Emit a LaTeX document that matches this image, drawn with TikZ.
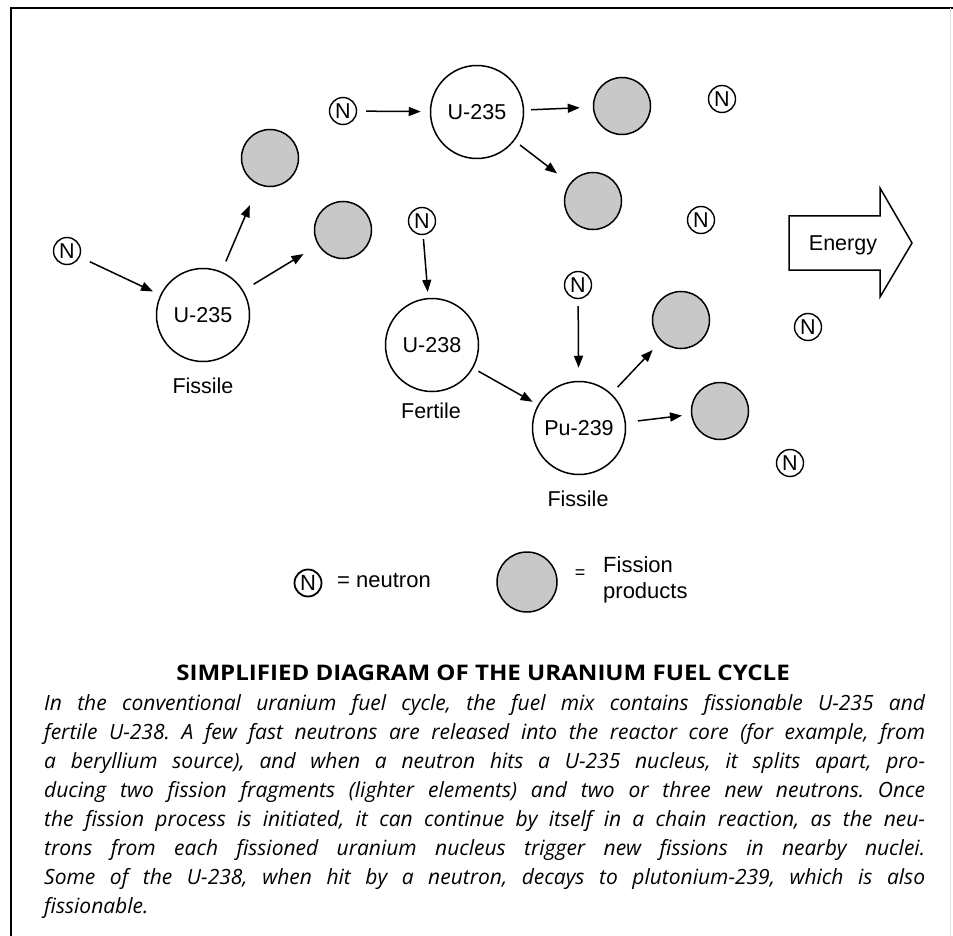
\documentclass[tikz,border=0pt]{standalone}
\usepackage{fontspec}
\setmainfont{Liberation Sans}
\newfontfamily\capfont{Open Sans}
\usetikzlibrary{arrows.meta}
\definecolor{fpgray}{RGB}{200,200,200}
\frenchspacing
\begin{document}
\begin{tikzpicture}[x=1pt,y=-1pt,
  nuc/.style={circle, draw, line width=1.5pt, fill=white, minimum size=93pt, inner sep=0pt, font=\fontsize{21.5}{24}\selectfont},
  fp/.style={circle, draw, line width=1.5pt, fill=fpgray, minimum size=57pt, inner sep=0pt},
  neu/.style={circle, draw, line width=1.4pt, minimum size=27pt, inner sep=0pt, font=\fontsize{21.5}{21}\selectfont},
  arr/.style={line width=1.5pt, -{Triangle[length=12pt,width=9pt]}},
  lbl/.style={font=\fontsize{21.5}{24}\selectfont, inner sep=0pt},
  capt/.style={font=\capfont\itshape\fontsize{21}{29}\selectfont, inner sep=0pt},
  ttl/.style={font=\capfont\bfseries\addfontfeatures{FakeStretch=1.12}\fontsize{21.5}{29}\selectfont, inner sep=0pt}]
\useasboundingbox (0,0) rectangle (953,936);
% frame
\draw[line width=1.5pt] (10,8) -- (953,8);
\draw[line width=1.5pt] (11,8) -- (11,936);
\draw[gray!25, line width=1pt] (950,8) -- (950,936);

% nuclei
\node[nuc] (u1) at (203,315) {U-235};
\node[nuc] (u2) at (477,112) {U-235};
\node[nuc] (u3) at (432,345) {U-238};
\node[nuc] (pu) at (579,428) {Pu-239};
\node[lbl, anchor=base] (f1) at (203,393) {Fissile};
\node[lbl, anchor=base] (f2) at (431,418) {Fertile};
\node[lbl, anchor=base] (f3) at (578,506) {Fissile};

% fission products
\node[fp] (g1) at (270,158) {};
\node[fp] (g2) at (343,230) {};
\node[fp] (g3) at (622,106) {};
\node[fp] (g4) at (593,201) {};
\node[fp] (g5) at (681,320) {};
\node[fp] (g6) at (720,411) {};

% neutrons
\node[neu] (nl) at (67,251) {N};
\node[neu] (nt) at (343,111) {N};
\node[neu] (nm) at (422,221) {N};
\node[neu] (np) at (578,285) {N};
\node[neu] (n1) at (722,99) {N};
\node[neu] (n2) at (701,220) {N};
\node[neu] (n3) at (808,327) {N};
\node[neu] (n4) at (790,463) {N};

% arrows
\draw[arr, shorten <=11pt, shorten >=8pt] (nl) -- (u1);
\draw[arr, shorten <=11pt, shorten >=22pt] (u1) -- (g1);
\draw[arr, shorten <=12pt, shorten >=17pt] (u1) -- (g2);
\draw[arr, shorten <=9pt, shorten >=9pt] (nt) -- (u2);
\draw[arr, shorten <=7pt, shorten >=13pt] (u2) -- (g3);
\draw[arr, shorten <=7pt, shorten >=16pt] (u2) -- (g4);
\draw[arr, shorten <=4pt, shorten >=6pt] (nm) -- (u3);
\draw[arr, shorten <=6pt, shorten >=6pt] (u3) -- (pu);
\draw[arr, shorten <=7pt, shorten >=13pt] (np) -- (pu);
\draw[arr, shorten <=9pt, shorten >=12pt] (pu) -- (g5);
\draw[arr, shorten <=12pt, shorten >=9pt] (pu) -- (g6);

% energy arrow
\draw[line width=1.5pt, fill=white, line join=miter] (789,216) -- (880,216) -- (880,188) -- (912,243) -- (880,297) -- (880,270) -- (789,270) -- cycle;
\node[lbl, anchor=base] (en) at (843,251) {Energy};

% legend
\node[neu, line width=1.8pt, font=\fontsize{22}{22}\selectfont] (ln) at (308,583) {N};
\node[lbl, font=\fontsize{22}{24}\selectfont, anchor=base west] (lnt) at (337,587) {= neutron};
\node[fp, minimum size=60pt] (lg) at (527,582) {};
\node[lbl, font=\fontsize{18}{20}\selectfont] (leq) at (580,574) {=};
\node[lbl, font=\fontsize{22}{24}\selectfont, anchor=base west] (lf1) at (603,572) {Fission};
\node[lbl, font=\fontsize{22}{24}\selectfont, anchor=base west] (lf2) at (603,598) {products};

% caption
\node[ttl, anchor=base] (title) at (483,680) {SIMPLIFIED DIAGRAM OF THE URANIUM FUEL CYCLE};
\node[capt, anchor=base west] (c1) at (44,710) {\makebox[881pt][s]{In the conventional uranium fuel cycle, the fuel mix contains fissionable U-235 and}};
\node[capt, anchor=base west] (c2) at (44,739) {\makebox[881pt][s]{fertile U-238. A few fast neutrons are released into the reactor core (for example, from}};
\node[capt, anchor=base west] (c3) at (44,768) {\makebox[881pt][s]{a beryllium source), and when a neutron hits a U-235 nucleus, it splits apart, pro-}};
\node[capt, anchor=base west] (c4) at (44,797) {\makebox[881pt][s]{ducing two fission fragments (lighter elements) and two or three new neutrons. Once}};
\node[capt, anchor=base west] (c5) at (44,826) {\makebox[881pt][s]{the fission process is initiated, it can continue by itself in a chain reaction, as the neu-}};
\node[capt, anchor=base west] (c6) at (44,855) {\makebox[881pt][s]{trons from each fissioned uranium nucleus trigger new fissions in nearby nuclei.}};
\node[capt, anchor=base west] (c7) at (44,884) {\makebox[881pt][s]{Some of the U-238, when hit by a neutron, decays to plutonium-239, which is also}};
\node[capt, anchor=base west] (c8) at (44,913) {fissionable.};
\end{tikzpicture}
\end{document}
